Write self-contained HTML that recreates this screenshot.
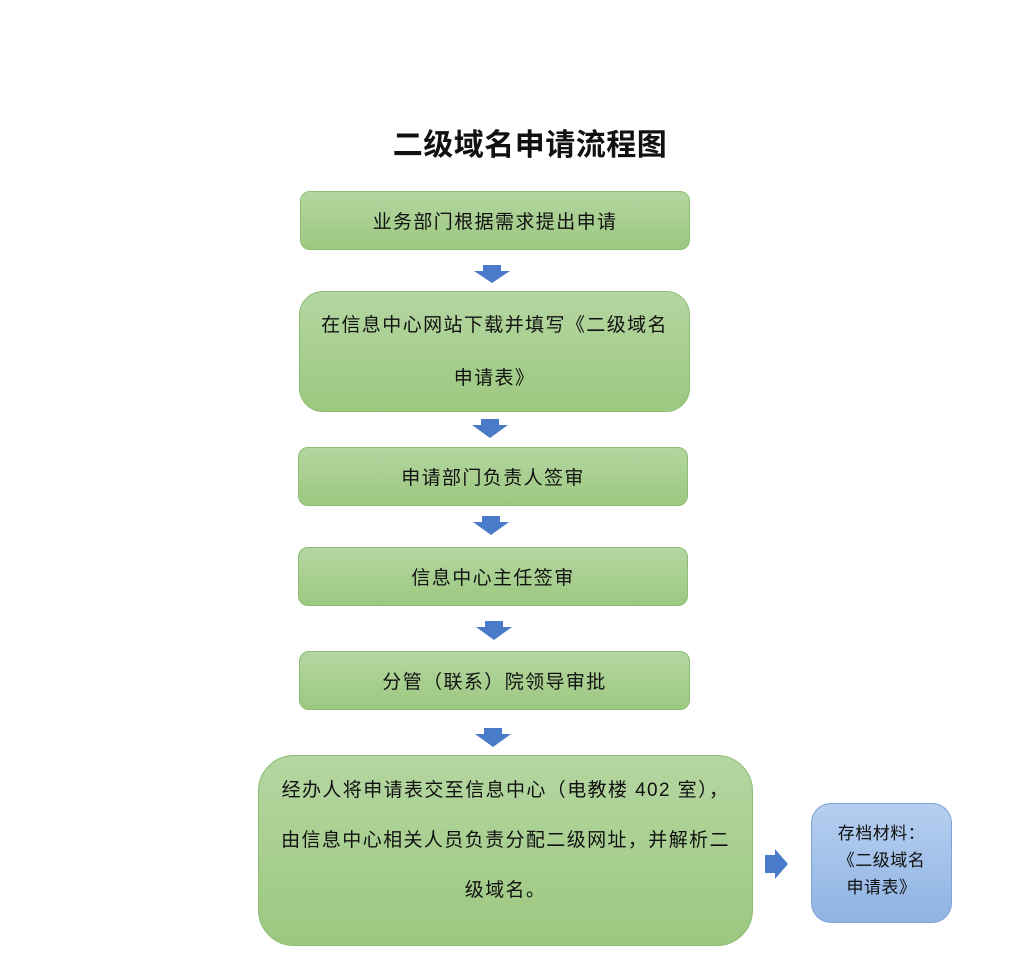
<!DOCTYPE html>
<html><head><meta charset="utf-8"><style>
body{margin:0;width:1024px;height:971px;background:#fff;position:relative;overflow:hidden;font-family:"Liberation Sans","Noto Sans CJK SC",sans-serif;}
.b{position:absolute;box-sizing:border-box;background:linear-gradient(#b4d6a1,#9cc880);border:1px solid #8dbd72;display:flex;align-items:center;justify-content:center;text-align:center;color:#111;font-size:19px;letter-spacing:1.4px;}
.t{position:absolute;left:18px;width:1024px;top:120px;text-align:center;font-size:30px;letter-spacing:0.5px;font-weight:bold;color:#111;}
svg{position:absolute;}
</style></head><body>
<div class="t">二级域名申请流程图</div>
<div class="b" style="left:300px;top:191px;width:390px;height:59px;border-radius:10px">业务部门根据需求提出申请</div>
<div class="b" style="left:299px;top:291px;width:391px;height:121px;border-radius:24px;line-height:53px">在信息中心网站下载并填写《二级域名<br>申请表》</div>
<div class="b" style="left:298px;top:447px;width:390px;height:59px;border-radius:10px">申请部门负责人签审</div>
<div class="b" style="left:298px;top:547px;width:390px;height:59px;border-radius:10px">信息中心主任签审</div>
<div class="b" style="left:299px;top:651px;width:391px;height:59px;border-radius:10px">分管（联系）院领导审批</div>
<div class="b" style="left:258px;top:755px;width:495px;height:191px;border-radius:36px;line-height:50px;padding-bottom:20px;letter-spacing:1.4px;font-size:19px">经办人将申请表交至信息中心（电教楼 402 室），<br>由信息中心相关人员负责分配二级网址，并解析二<br>级域名。</div>
<div class="b" style="left:811px;top:803px;width:141px;height:120px;border-radius:20px;background:linear-gradient(#b6cff0,#8fb3e3);border-color:#7fa3d6;font-size:17px;letter-spacing:0.5px;line-height:27px;padding-bottom:6px">存档材料：<br>《二级域名<br>申请表》</div>
<svg width="1024" height="971" style="left:0;top:0">
<g fill="#4a7bc8">
<polygon points="483,265 501,265 501,271 510,271 492,283 474,271 483,271"/>
<polygon points="481,419 499,419 499,425 508,425 490,438 472,425 481,425"/>
<polygon points="482,516 500,516 500,522 509,522 491,535 473,522 482,522"/>
<polygon points="485,621 503,621 503,627 512,627 494,640 476,627 485,627"/>
<polygon points="484,728 502,728 502,734 511,734 493,747 475,734 484,734"/>
<polygon points="765,855 775,855 775,849 788,864 775,879 775,873 765,873"/>
</g></svg>
</body></html>
